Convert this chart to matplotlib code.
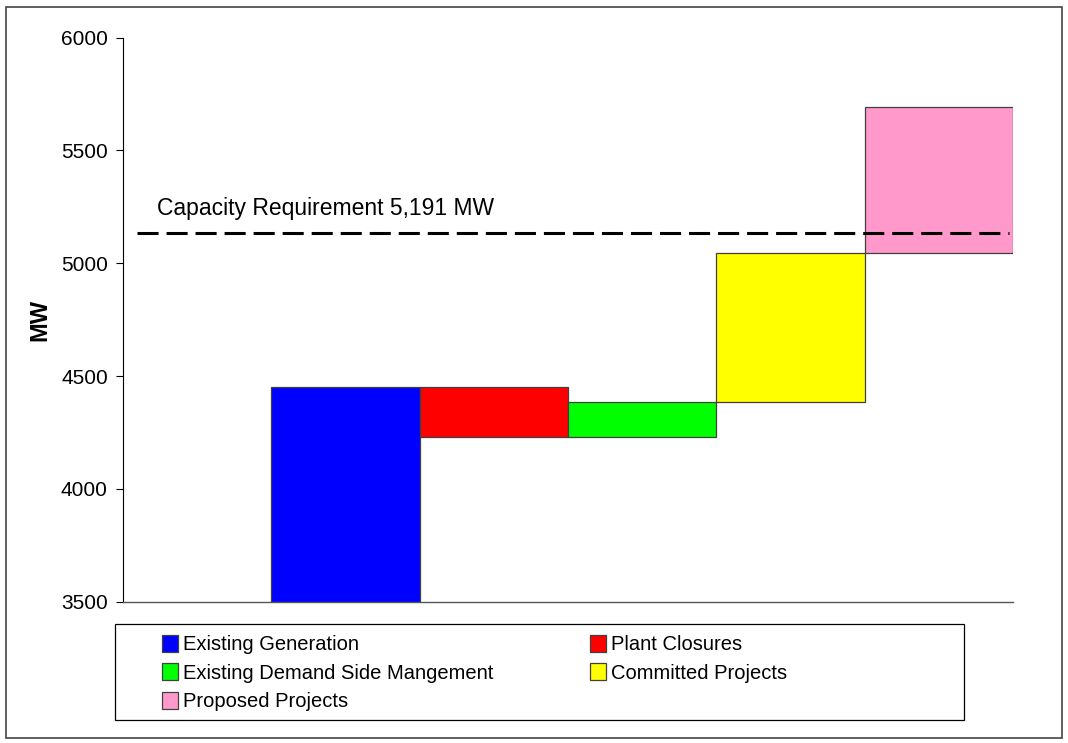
import matplotlib
matplotlib.use("Agg")
import matplotlib.pyplot as plt
from matplotlib.patches import Rectangle, Patch
import numpy as np

plt.rcParams["font.family"] = ["Liberation Sans", "DejaVu Sans"]

# waterfall data (MW)
labels = ["Existing Generation", "Plant Closures", "Existing Demand Side Mangement",
          "Committed Projects", "Proposed Projects"]
existing = 4450
changes = [-220, 155, 662, 646]
colors = ["#0000FF", "#FF0000", "#00FF00", "#FFFF00", "#FF99CC"]
requirement = 5135
req_label = "Capacity Requirement 5,191 MW"
yticks = [3500, 4000, 4500, 5000, 5500, 6000]

# bar bottoms / heights
levels = np.concatenate([[existing], existing + np.cumsum(changes)])
bottoms = [0] + [min(a, b) for a, b in zip(levels[:-1], levels[1:])]
heights = [existing] + [abs(c) for c in changes]
xpos = np.arange(1, len(labels) + 1)

fig = plt.figure(figsize=(10.68, 7.43), dpi=100)
ax = fig.add_axes([0.1152, 0.1902, 0.8333, 0.7591])

bars = ax.bar(xpos, heights, bottom=bottoms, width=1.0, color=colors,
              edgecolor="#404040", linewidth=0.9, zorder=2)

ax.axhline(requirement, xmin=0.016, xmax=0.995, color="black", lw=2.2,
           linestyle=(0, (6.9, 2.6)), zorder=3)
ax.text(-0.27, 5214, req_label, fontsize=16.5, va="baseline", ha="left")

ax.set_xlim(-0.5, 5.5)
ax.set_ylim(3500, 6000)
ax.set_yticks(yticks)
ax.set_xticks([])
ax.tick_params(axis="y", labelsize=15, length=5, width=0.8, pad=6)
for s in ["top", "right"]:
    ax.spines[s].set_visible(False)
ax.spines["left"].set_linewidth(0.8)
ax.spines["bottom"].set_color("#555555")
ax.spines["bottom"].set_linewidth(1.0)

ax.set_ylabel("MW", fontsize=17, fontweight="bold")
ax.yaxis.set_label_coords(-0.080, 0.5)

# legend box + outer border
fig.patches.append(Rectangle((0.1077, 0.031), 0.795, 0.1292, transform=fig.transFigure,
                             fill=False, edgecolor="black", lw=0.9))
fig.patches.append(Rectangle((0.006, 0.007), 0.988, 0.984, transform=fig.transFigure,
                             fill=False, edgecolor="#444444", lw=1.2))

handles = [Patch(facecolor=c, edgecolor="#404040", lw=0.9) for c in colors]
order = [0, 2, 4, 1, 3]
fig.legend([handles[i] for i in order], [labels[i] for i in order],
           loc="upper left", bbox_to_anchor=(152 / 1068, 1 - 625 / 743),
           ncol=2, frameon=False, fontsize=14.5, borderpad=0,
           handlelength=0.8, handleheight=0.9, handletextpad=0.25,
           labelspacing=0.45, columnspacing=4.8)

fig.savefig("out.png", dpi=100)
